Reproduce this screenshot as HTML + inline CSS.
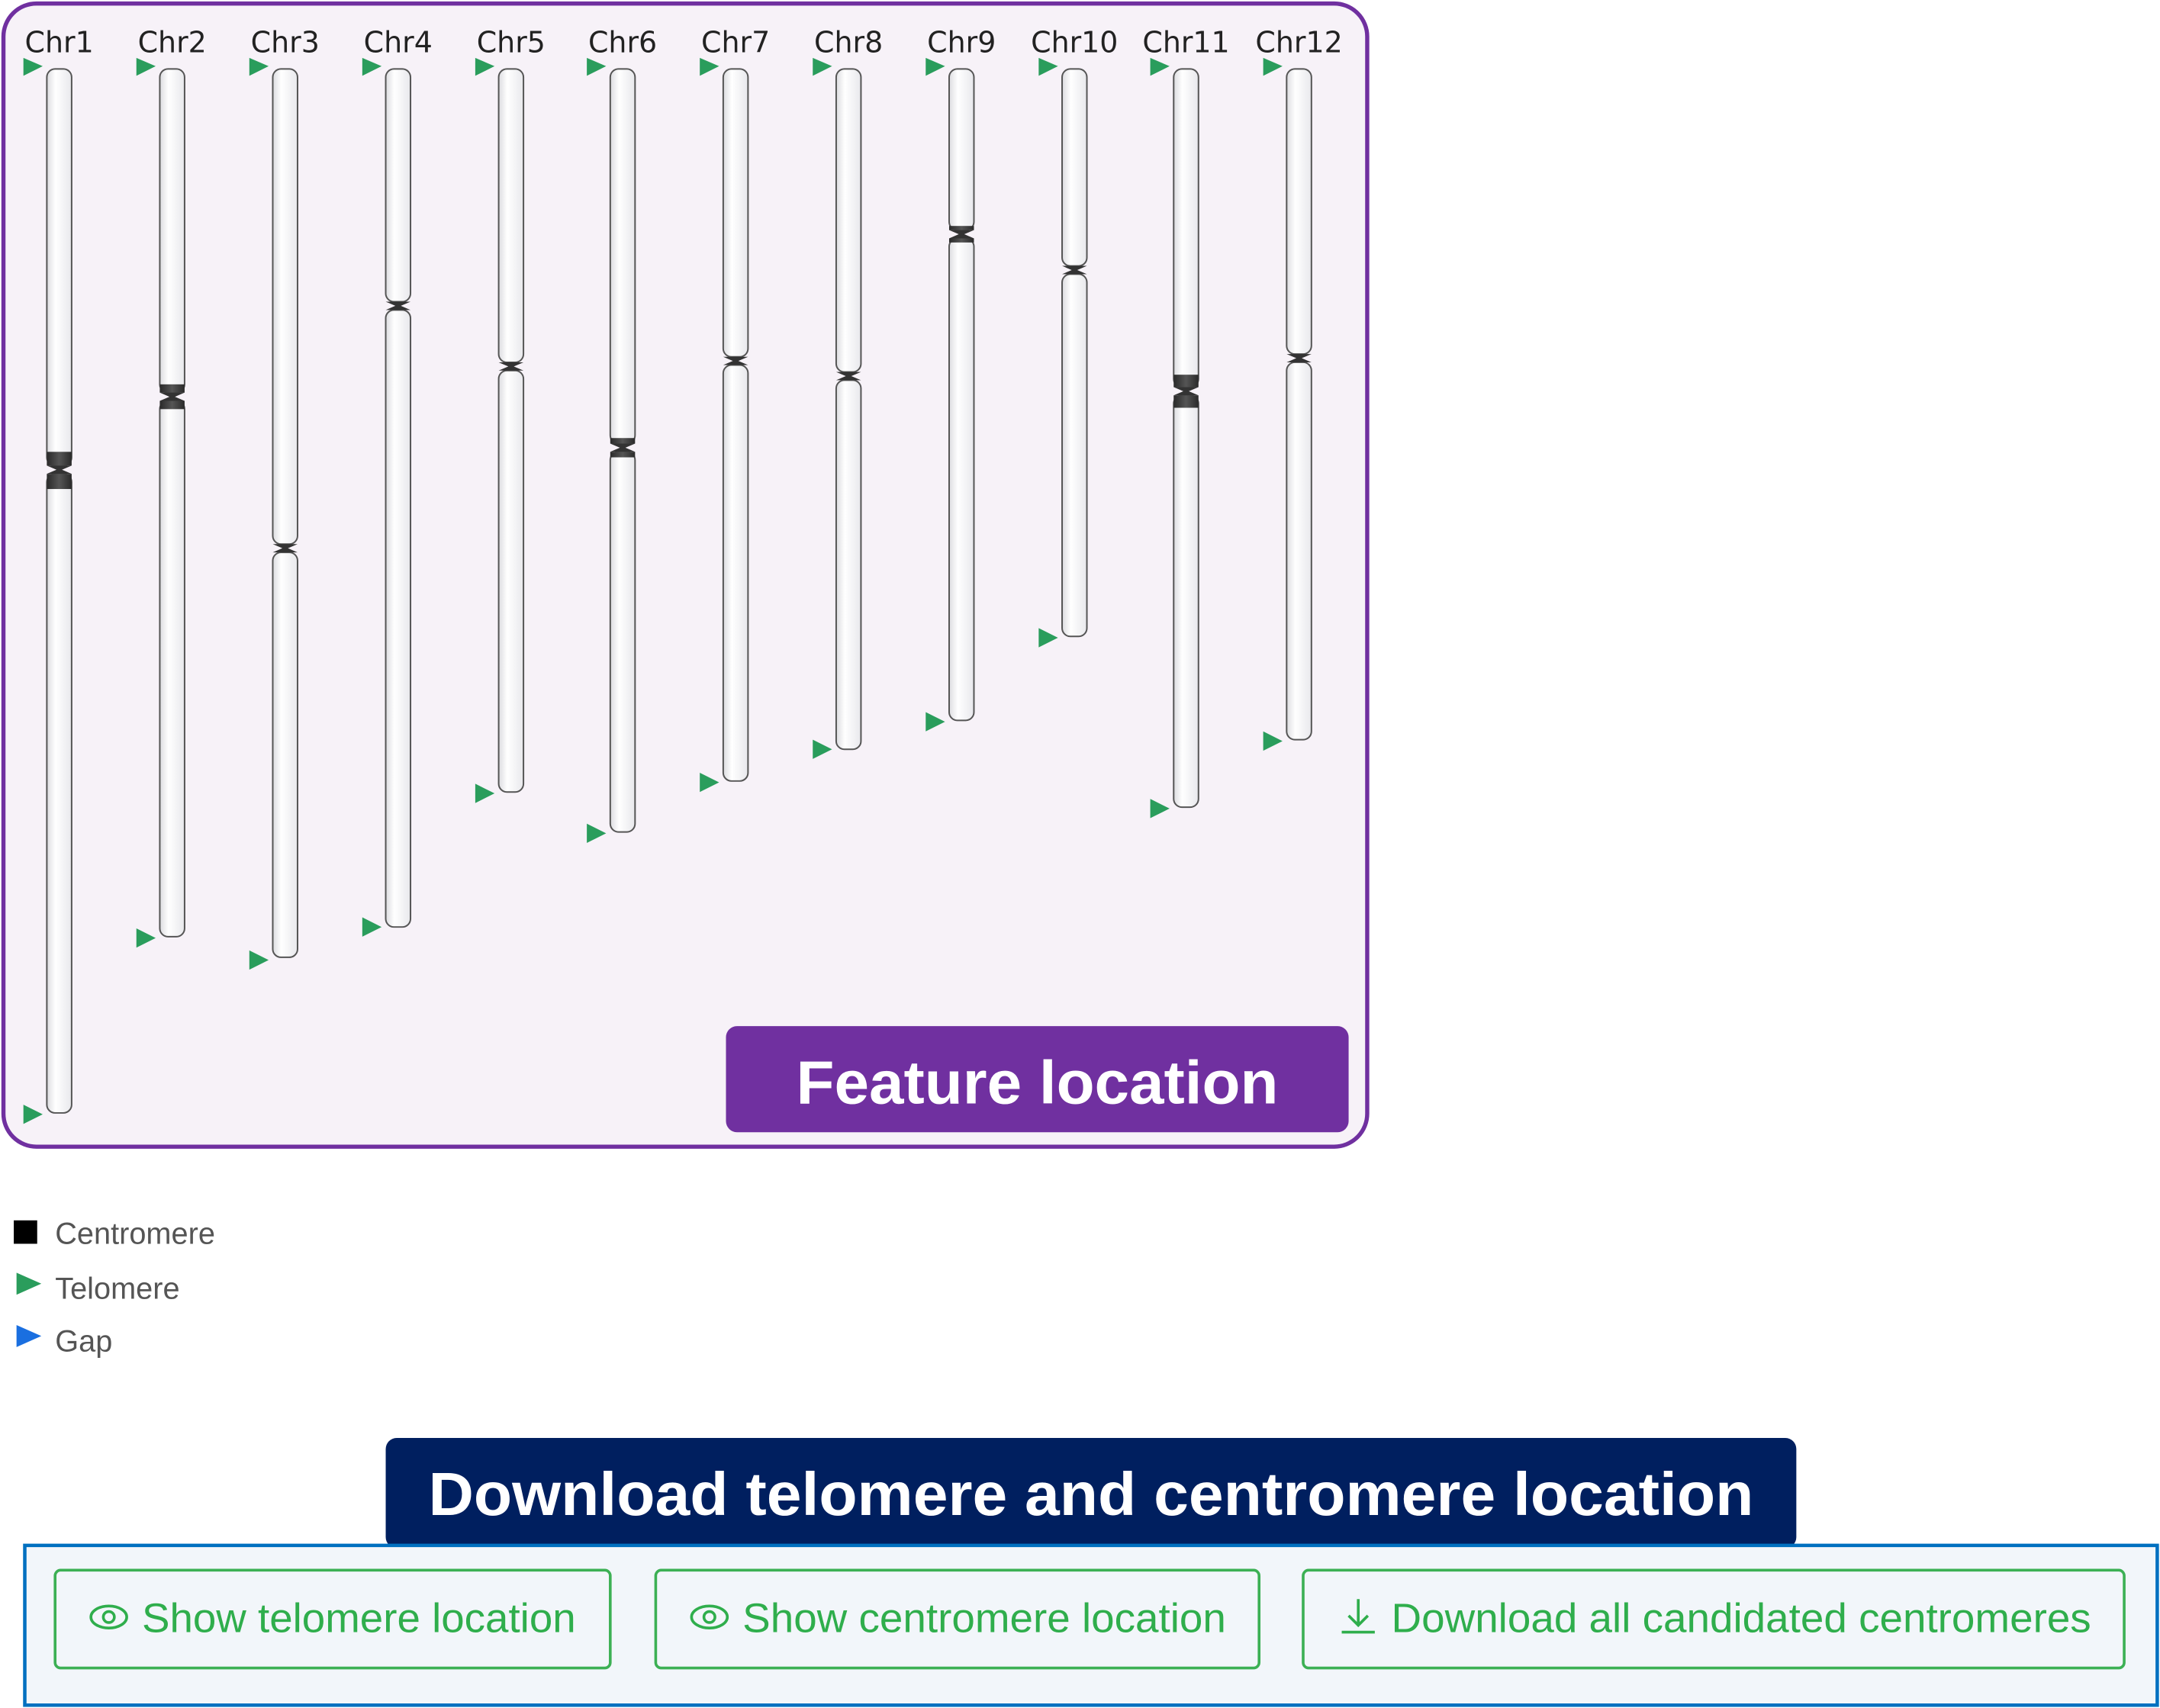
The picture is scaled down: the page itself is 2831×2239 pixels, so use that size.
<!DOCTYPE html>
<html><head><meta charset="utf-8"><style>html,body{margin:0;padding:0;background:#fff;width:2831px;height:2239px;overflow:hidden}svg{display:block}</style></head><body>
<svg width="2831" height="2239" viewBox="0 0 1568 1240" xmlns="http://www.w3.org/2000/svg" font-family="Liberation Sans, sans-serif">
<defs>
<linearGradient id="cg" x1="0" x2="1" y1="0" y2="0"><stop offset="0" stop-color="#dcdce0"/><stop offset="0.35" stop-color="#ffffff"/><stop offset="1" stop-color="#e8e8ec"/></linearGradient>
<linearGradient id="dg" x1="0" x2="1" y1="0" y2="0"><stop offset="0" stop-color="#2a2a2a"/><stop offset="0.5" stop-color="#555"/><stop offset="1" stop-color="#2a2a2a"/></linearGradient>
</defs>
<rect x="2.5" y="2.5" width="990" height="830" rx="24" fill="#f7f2f8" stroke="#7030a0" stroke-width="3"/>
<g font-family="DejaVu Sans, sans-serif" font-size="21" fill="#222" text-anchor="middle">
<text x="43" y="38">Chr1</text><text x="125" y="38">Chr2</text><text x="207" y="38">Chr3</text><text x="289" y="38">Chr4</text><text x="371" y="38">Chr5</text><text x="452" y="38">Chr6</text><text x="534" y="38">Chr7</text><text x="616" y="38">Chr8</text><text x="698" y="38">Chr9</text><text x="780" y="38">Chr10</text><text x="861" y="38">Chr11</text><text x="943" y="38">Chr12</text>
</g>
<g stroke="#555" stroke-width="1.1" fill="url(#cg)">
<rect x="34" y="50" width="18" height="288" rx="6"/><rect x="34" y="344" width="18" height="464" rx="6"/>
<rect x="116" y="50" width="18" height="235" rx="6"/><rect x="116" y="291" width="18" height="389" rx="6"/>
<rect x="198" y="50" width="18" height="345" rx="6"/><rect x="198" y="401" width="18" height="294" rx="6"/>
<rect x="280" y="50" width="18" height="169" rx="6"/><rect x="280" y="225" width="18" height="448" rx="6"/>
<rect x="362" y="50" width="18" height="213" rx="6"/><rect x="362" y="269" width="18" height="306" rx="6"/>
<rect x="443" y="50" width="18" height="272" rx="6"/><rect x="443" y="328" width="18" height="276" rx="6"/>
<rect x="525" y="50" width="18" height="209" rx="6"/><rect x="525" y="265" width="18" height="302" rx="6"/>
<rect x="607" y="50" width="18" height="220" rx="6"/><rect x="607" y="276" width="18" height="268" rx="6"/>
<rect x="689" y="50" width="18" height="117" rx="6"/><rect x="689" y="173" width="18" height="350" rx="6"/>
<rect x="771" y="50" width="18" height="143" rx="6"/><rect x="771" y="199" width="18" height="263" rx="6"/>
<rect x="852" y="50" width="18" height="231" rx="6"/><rect x="852" y="287" width="18" height="299" rx="6"/>
<rect x="934" y="50" width="18" height="207" rx="6"/><rect x="934" y="263" width="18" height="274" rx="6"/>
</g>
<g fill="url(#dg)">
<rect x="34" y="328" width="18" height="10"/><rect x="34" y="344" width="18" height="11"/>
<rect x="116" y="279" width="18" height="6"/><rect x="116" y="291" width="18" height="6"/>
<rect x="443" y="318" width="18" height="4"/><rect x="443" y="328" width="18" height="4"/>
<rect x="689" y="164" width="18" height="3"/><rect x="689" y="173" width="18" height="3"/>
<rect x="852" y="272" width="18" height="9"/><rect x="852" y="287" width="18" height="9"/>
</g>
<g fill="#333">
<polygon points="34,338 52,338 45,341 52,344 34,344 41,341"/>
<polygon points="116,285 134,285 127,288 134,291 116,291 123,288"/>
<polygon points="198,395 216,395 209,398 216,401 198,401 205,398"/>
<polygon points="280,219 298,219 291,222 298,225 280,225 287,222"/>
<polygon points="362,263 380,263 373,266 380,269 362,269 369,266"/>
<polygon points="443,322 461,322 454,325 461,328 443,328 450,325"/>
<polygon points="525,259 543,259 536,262 543,265 525,265 532,262"/>
<polygon points="607,270 625,270 618,273 625,276 607,276 614,273"/>
<polygon points="689,167 707,167 700,170 707,173 689,173 696,170"/>
<polygon points="771,193 789,193 782,196 789,199 771,199 778,196"/>
<polygon points="852,281 870,281 863,284 870,287 852,287 859,284"/>
<polygon points="934,257 952,257 945,260 952,263 934,263 941,260"/>
</g>
<g fill="#2a9d5c">
<polygon points="17,42 17,55 31,48"/><polygon points="99,42 99,55 113,48"/><polygon points="181,42 181,55 195,48"/><polygon points="263,42 263,55 277,48"/><polygon points="345,42 345,55 359,48"/><polygon points="426,42 426,55 440,48"/><polygon points="508,42 508,55 522,48"/><polygon points="590,42 590,55 604,48"/><polygon points="672,42 672,55 686,48"/><polygon points="754,42 754,55 768,48"/><polygon points="835,42 835,55 849,48"/><polygon points="917,42 917,55 931,48"/>
<polygon points="17,802 17,816 31,809"/><polygon points="99,674 99,688 113,681"/><polygon points="181,690 181,704 195,697"/><polygon points="263,666 263,680 277,673"/><polygon points="345,569 345,583 359,576"/><polygon points="426,598 426,612 440,605"/><polygon points="508,561 508,575 522,568"/><polygon points="590,537 590,551 604,544"/><polygon points="672,517 672,531 686,524"/><polygon points="754,456 754,470 768,463"/><polygon points="835,580 835,594 849,587"/><polygon points="917,531 917,545 931,538"/>
</g>
<rect x="527" y="745" width="452" height="77" rx="8" fill="#7030a0"/>
<text x="578" y="801" font-size="44" font-weight="bold" fill="#fff" textLength="350" lengthAdjust="spacingAndGlyphs">Feature location</text>
<rect x="10" y="886" width="17" height="17" fill="#000"/>
<text x="40" y="903" font-size="22" fill="#555">Centromere</text>
<polygon points="12,924 12,940 30,932" fill="#2a9d5c"/>
<text x="40" y="943" font-size="22" fill="#555">Telomere</text>
<polygon points="12,962 12,978 30,970" fill="#1a6fe0"/>
<text x="40" y="981" font-size="22" fill="#555">Gap</text>
<rect x="280" y="1044" width="1024" height="80" rx="8" fill="#001f5f"/>
<text x="311" y="1100" font-size="44" font-weight="bold" fill="#fff" textLength="962" lengthAdjust="spacingAndGlyphs">Download telomere and centromere location</text>
<rect x="18" y="1122" width="1548" height="116" fill="#f2f6fa" stroke="#0070c0" stroke-width="2.5"/>
<g fill="none" stroke="#3cb054" stroke-width="2">
<rect x="40" y="1140" width="403" height="71" rx="4"/>
<rect x="476" y="1140" width="438" height="71" rx="4"/>
<rect x="946" y="1140" width="596" height="71" rx="4"/>
</g>
<g fill="#2fae4c" font-size="30">
<text x="103" y="1185" textLength="315" lengthAdjust="spacingAndGlyphs">Show telomere location</text>
<text x="539" y="1185" textLength="351" lengthAdjust="spacingAndGlyphs">Show centromere location</text>
<text x="1010" y="1185" textLength="508" lengthAdjust="spacingAndGlyphs">Download all candidated centromeres</text>
</g>
<g fill="none" stroke="#2fae4c" stroke-width="2">
<ellipse cx="79" cy="1174" rx="13" ry="8"/><circle cx="79" cy="1174" r="4"/>
<ellipse cx="515" cy="1174" rx="13" ry="8"/><circle cx="515" cy="1174" r="4"/>
<path d="M986 1161 V1180 M979 1173 L986 1180 L993 1173 M974 1185 H998"/>
</g>
</svg>
</body></html>
